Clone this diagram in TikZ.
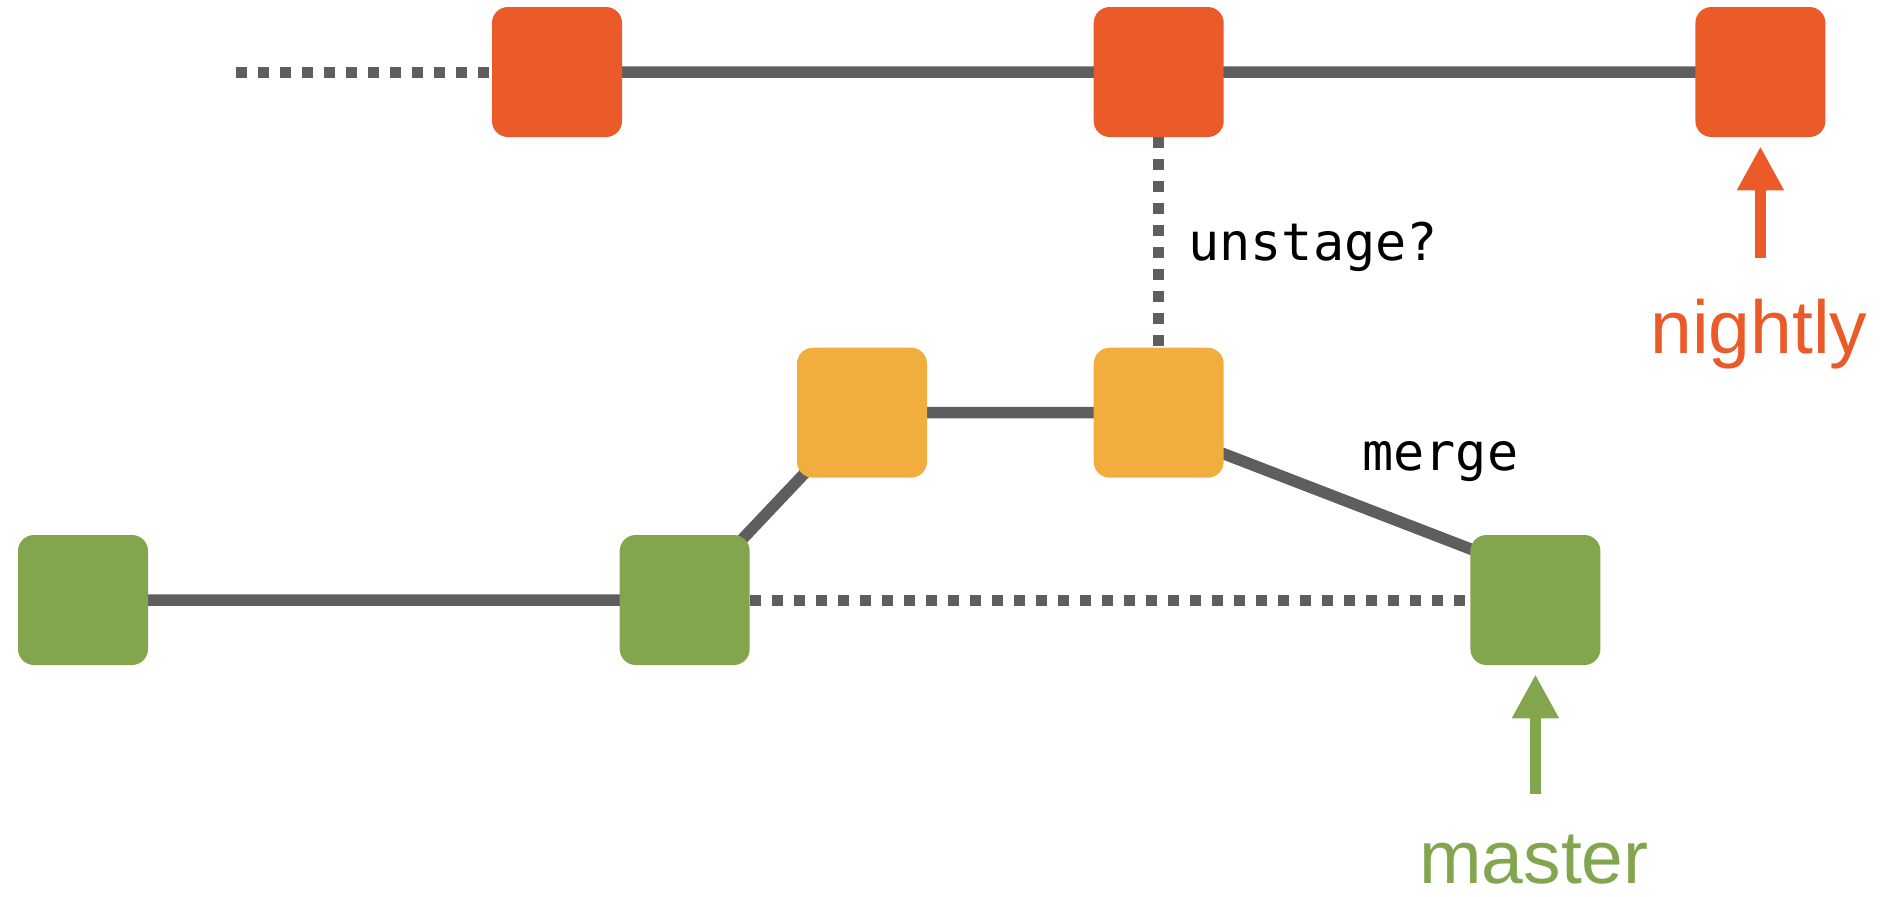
\documentclass[tikz,border=0pt]{standalone}
\usepackage{fontspec}
\setmainfont{Liberation Sans}
\newfontfamily\codefont{DejaVu Sans Mono}
\usetikzlibrary{positioning,calc,backgrounds,arrows.meta}
\definecolor{linegray}{RGB}{94,94,94}
\definecolor{nightlyred}{RGB}{235,91,42}
\definecolor{featureorange}{RGB}{241,173,62}
\definecolor{mastergreen}{RGB}{130,165,78}

\begin{document}
\begin{tikzpicture}
\tikzstyle{commit}=[rectangle, minimum size=2.6cm, rounded corners=0.32cm, inner sep=0pt, node distance=9.42cm]
\tikzstyle{link}=[line width=0.23cm, draw=linegray]
\tikzstyle{maybe}=[line width=0.22cm, draw=linegray, dash pattern=on 0.22cm off 0.22cm]
\tikzstyle{branch}=[font=\fontsize{42.7}{50}\selectfont, inner sep=0pt, anchor=base]
\tikzstyle{note}=[font=\codefont\fontsize{29.5}{35}\selectfont, inner sep=0pt, anchor=base west]
\tikzstyle{pointer}=[line width=0.22cm, -{Triangle[width=0.88cm, length=0.88cm]}, shorten >=0.18cm]
  \useasboundingbox (0,0) rectangle (37.9,-17.92);
  % nightly line
  \node[commit, fill=nightlyred] (r1) at (11.14,-1.44) {};
  \node[commit, fill=nightlyred] (r2) [right=of r1] {};
  \node[commit, fill=nightlyred] (r3) [right=of r2] {};
  \coordinate (past) at (4.72,-1.44);
  % feature branch
  \node[commit, fill=featureorange] (o2) [below=4.2cm of r2] {};
  \node[commit, fill=featureorange] (o1) [left=3.32cm of o2] {};
  % master line
  \node[commit, fill=mastergreen] (g1) at (1.66,-12.0) {};
  \node[commit, fill=mastergreen] (g2) [right=of g1] {};
  \node[commit, fill=mastergreen] (g3) [right=14.4cm of g2] {};
  \begin{scope}[on background layer]
    \path[link] (r1.center) -- (r2.center) -- (r3.center)
                (g1.center) -- (g2.center) -- (o1.center) -- (o2.center)
                ($(o2.center)+(0,-0.32)$) -- ($(g3.center)+(0,0.52)$);
    \path[maybe] (past) -- (r1.west)
                 (r2) -- (o2)
                 (g2) -- (g3);
  \end{scope}
  \node[note] (unstage) at (23.76,-5.2) {unstage?};
  \node[note] (merge) at (27.24,-9.4) {merge};
  % branch pointers
  \node[branch, text=nightlyred] (nightly) at (35.18,-7.06) {nightly};
  \node[branch, text=mastergreen] (master) at (30.68,-17.66) {master};
  \draw[pointer, nightlyred, shorten <=0.8cm] (r3.south |- nightly.north) -- (r3.south);
  \draw[pointer, mastergreen, shorten <=0.8cm] (g3.south |- master.north) -- (g3.south);
\end{tikzpicture}
\end{document}
